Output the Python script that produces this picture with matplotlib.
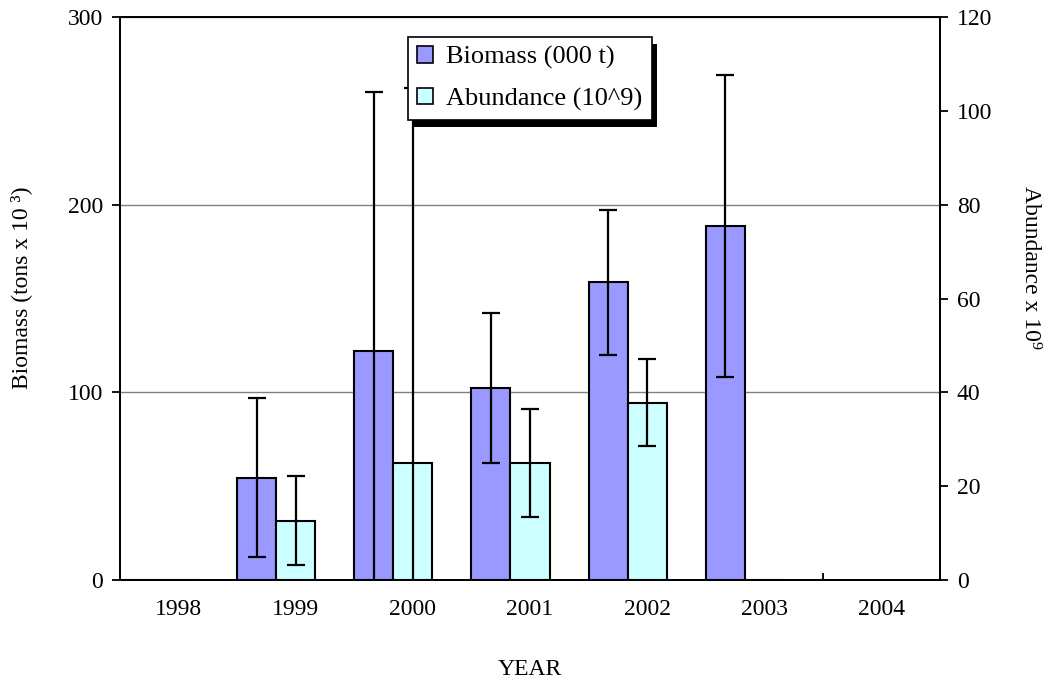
import matplotlib
matplotlib.use("Agg")
import matplotlib.pyplot as plt
import matplotlib.patheffects as pe
from matplotlib.patches import Patch
import numpy as np

plt.rcParams['font.family'] = ['Liberation Serif', 'DejaVu Serif']

years = ['1998', '1999', '2000', '2001', '2002', '2003', '2004']
biomass = [0, 54.5, 122, 102.5, 158.7, 188.8, 0]
biomass_err = [0, 42.5, 138, 40, 38.5, 80.4, 0]
abundance = [0, 12.6, 24.9, 24.9, 37.8, 0, 0]
abundance_err = [0, 9.5, 80, 11.5, 9.3, 0, 0]

c_bio = '#9999FF'
c_abu = '#CCFFFF'

fig = plt.figure(figsize=(10.46, 6.83), dpi=100)
ax = fig.add_axes([0.1147, 0.1508, 0.784, 0.824])
ax2 = ax.twinx()

x = np.arange(len(years))
w = 1 / 3

# bars sit in the first two thirds of each category slot
ax.bar(x[:6] - 0.5, biomass[:6], width=w, align='edge', color=c_bio,
       edgecolor='black', linewidth=1.5, zorder=3)
ax2.bar(x[:6] - 0.5 + w, abundance[:6], width=w, align='edge', color=c_abu,
        edgecolor='black', linewidth=1.5, zorder=3)

be = [i for i in range(7) if biomass_err[i] > 0]
ax.errorbar(x[be] - 0.5 + w / 2, np.array(biomass)[be], yerr=np.array(biomass_err)[be],
            fmt='none', ecolor='black', elinewidth=1.6, capsize=6.5, capthick=1.6, zorder=4)
ae = [i for i in range(7) if abundance_err[i] > 0]
ax2.errorbar(x[ae] - 0.5 + 1.5 * w, np.array(abundance)[ae], yerr=np.array(abundance_err)[ae],
             fmt='none', ecolor='black', elinewidth=1.6, capsize=6.5, capthick=1.6, zorder=4)

ax.set_xlim(-0.5, 6.5)
ax.set_ylim(0, 300)
ax2.set_ylim(0, 120)
ax.set_yticks([0, 100, 200, 300])
ax2.set_yticks(range(0, 121, 20))
ax.yaxis.grid(True, color='#808080', linewidth=1)
ax.set_axisbelow(True)

ax.set_xticks(x)
ax.set_xticklabels(years)
ax.set_xticks(np.arange(0.5, 6.5, 1), minor=True)
ax.tick_params(axis='x', which='major', length=0, pad=14, labelsize=17)
ax.tick_params(axis='x', which='minor', direction='in', length=5, width=1.3)
ax.tick_params(axis='y', length=6, width=1.3, labelsize=17, pad=6)
ax2.tick_params(axis='y', length=6, width=1.3, labelsize=17, pad=6)

for a in (ax, ax2):
    for s in a.spines.values():
        s.set_linewidth(1.3)

ax.set_xlabel('YEAR', fontsize=17, labelpad=28)
ax.set_ylabel('Biomass (tons x 10 \u00b3)', fontsize=17)
ax2.set_ylabel('Abundance x 10\u2079', fontsize=17, rotation=-90)
ax.yaxis.set_label_coords(-0.107, 0.52)
ax2.yaxis.set_label_coords(1.123, 0.556)

handles = [Patch(facecolor=c_bio, edgecolor='black', linewidth=1.2),
           Patch(facecolor=c_abu, edgecolor='black', linewidth=1.2)]
leg = ax2.legend(handles, ['Biomass (000 t)', 'Abundance (10^9)'],
                 loc='upper left', bbox_to_anchor=(0.351, 0.965), borderaxespad=0,
                 fancybox=False, framealpha=1, edgecolor='black', fontsize=19,
                 handlelength=0.6, handleheight=0.6, handletextpad=0.5,
                 labelspacing=0.7, borderpad=0.35)
leg.get_frame().set_linewidth(1.2)
leg.get_frame().set_path_effects([pe.SimplePatchShadow(offset=(4, -5), shadow_rgbFace='black', alpha=1),
                                  pe.Normal()])
leg.set_zorder(10)

fig.savefig('out.png', dpi=100)
